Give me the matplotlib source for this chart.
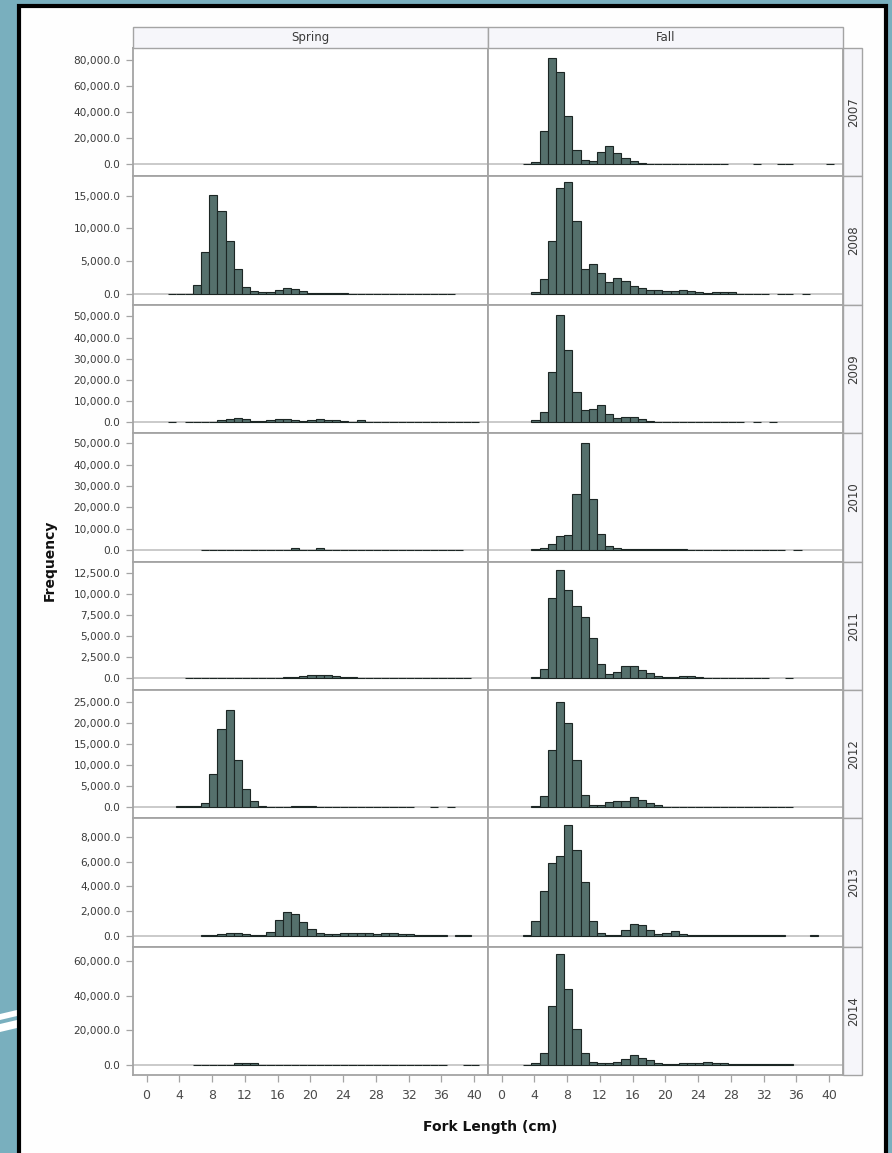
import matplotlib
matplotlib.use("Agg")
import matplotlib.pyplot as plt
from matplotlib.patches import Rectangle, Polygon
from matplotlib.ticker import FuncFormatter
import numpy as np

# ---------------- data ----------------
seasons = ["Spring", "Fall"]
years = ["2007", "2008", "2009", "2010", "2011", "2012", "2013", "2014"]
fork_length = list(range(0, 41))  # 1-cm length classes
x_ticks = list(range(0, 41, 4))

def full(d):
    return [d.get(k, 0) for k in fork_length]

spring_2007 = full({})
fall_2007 = full({3: 500, 4: 2000, 5: 25400, 6: 81300, 7: 71100, 8: 36800, 9: 11400,
                  10: 3600, 11: 2300, 12: 9600, 13: 14000, 14: 8400, 15: 4800, 16: 2500,
                  17: 1000, 18: 400, 19: 300, 20: 300, 21: 300, 22: 300, 23: 300, 24: 300,
                  25: 300, 26: 300, 27: 300, 31: 300, 34: 300, 35: 300, 40: 300})

spring_2008 = full({3: 50, 4: 50, 5: 50, 6: 1440, 7: 6460, 8: 15130, 9: 12600, 10: 8000,
                    11: 3740, 12: 1030, 13: 400, 14: 250, 15: 250, 16: 560, 17: 920,
                    18: 770, 19: 510, 20: 200, 21: 200, 22: 200, 23: 200, 24: 200,
                    25: 50, 26: 50, 27: 50, 28: 50, 29: 50, 30: 50, 31: 50, 32: 50,
                    33: 50, 34: 50, 35: 50, 36: 50, 37: 50})
fall_2008 = full({4: 300, 5: 2300, 6: 8000, 7: 16150, 8: 17080, 9: 11080, 10: 3740,
                  11: 4600, 12: 3230, 13: 1850, 14: 2360, 15: 2050, 16: 1280, 17: 920,
                  18: 670, 19: 560, 20: 510, 21: 460, 22: 560, 23: 460, 24: 250, 25: 150,
                  26: 300, 27: 300, 28: 300, 29: 50, 30: 50, 31: 50, 32: 50, 34: 50,
                  35: 50, 37: 50})

spring_2009 = full({3: 200, 5: 150, 6: 150, 7: 150, 8: 150, 9: 940, 10: 1570, 11: 2040,
                    12: 1260, 13: 630, 14: 630, 15: 1100, 16: 1260, 17: 1260, 18: 790,
                    19: 470, 20: 1100, 21: 1260, 22: 1100, 23: 790, 24: 310, 25: 100,
                    26: 790, 27: 80, 28: 80, 29: 80, 30: 80, 31: 80, 32: 80, 33: 80,
                    34: 80, 35: 80, 36: 80, 37: 80, 38: 80, 39: 80, 40: 80})
fall_2009 = full({4: 940, 5: 4870, 6: 23740, 7: 50800, 8: 34280, 9: 14300, 10: 5660,
                  11: 5970, 12: 7860, 13: 3620, 14: 2040, 15: 2360, 16: 2360, 17: 1260,
                  18: 470, 19: 200, 20: 200, 21: 200, 22: 200, 23: 200, 24: 200, 25: 200,
                  26: 200, 27: 200, 28: 200, 29: 200, 31: 100, 33: 100})

spring_2010 = full({7: 100, 8: 100, 9: 100, 10: 100, 11: 100, 12: 100, 13: 100, 14: 100,
                    15: 100, 16: 100, 17: 100, 18: 1100, 19: 100, 20: 100, 21: 1100,
                    22: 100, 23: 100, 24: 100, 25: 100, 26: 100, 27: 100, 28: 100,
                    29: 100, 30: 100, 31: 100, 32: 100, 33: 100, 34: 100, 35: 100,
                    36: 100, 37: 100, 38: 100})
fall_2010 = full({4: 600, 5: 1100, 6: 3100, 7: 6600, 8: 6900, 9: 26100, 10: 50000,
                  11: 23800, 12: 7800, 13: 1900, 14: 1000, 15: 500, 16: 500, 17: 500,
                  18: 500, 19: 500, 20: 500, 21: 500, 22: 500, 23: 100, 24: 100, 25: 100,
                  26: 100, 27: 100, 28: 100, 29: 100, 30: 100, 31: 100, 32: 100,
                  33: 100, 34: 100, 36: 200})

spring_2011 = full({5: 50, 6: 50, 7: 50, 8: 50, 9: 50, 10: 50, 11: 50, 12: 50, 13: 50,
                    14: 50, 15: 50, 16: 50, 17: 120, 18: 200, 19: 320, 20: 440, 21: 440,
                    22: 360, 23: 240, 24: 120, 25: 120, 26: 40, 27: 40, 28: 40, 29: 40,
                    30: 40, 31: 40, 32: 40, 33: 40, 34: 40, 35: 40, 36: 40, 37: 40,
                    38: 40, 39: 40})
fall_2011 = full({4: 120, 5: 1110, 6: 9520, 7: 12900, 8: 10500, 9: 8600, 10: 7220,
                  11: 4760, 12: 1670, 13: 500, 14: 800, 15: 1500, 16: 1500, 17: 1000,
                  18: 680, 19: 280, 20: 120, 21: 120, 22: 240, 23: 240, 24: 120, 25: 80,
                  26: 50, 27: 50, 28: 50, 29: 50, 30: 50, 31: 50, 32: 50, 35: 50})

spring_2012 = full({4: 240, 5: 240, 6: 240, 7: 1030, 8: 7780, 9: 18490, 10: 23000,
                    11: 11100, 12: 4370, 13: 1430, 14: 160, 15: 80, 16: 80, 17: 80,
                    18: 240, 19: 240, 20: 240, 21: 60, 22: 60, 23: 60, 24: 60, 25: 60,
                    26: 60, 27: 60, 28: 60, 29: 60, 30: 60, 31: 60, 32: 60, 35: 60,
                    37: 60})
fall_2012 = full({4: 240, 5: 2540, 6: 13490, 7: 24840, 8: 20000, 9: 11100, 10: 2940,
                  11: 560, 12: 400, 13: 1190, 14: 1350, 15: 1430, 16: 2380, 17: 1590,
                  18: 1030, 19: 400, 20: 60, 21: 60, 22: 60, 23: 60, 24: 60, 25: 60,
                  26: 60, 27: 60, 28: 60, 29: 60, 30: 60, 31: 60, 32: 60, 33: 60,
                  34: 60, 35: 60})

spring_2013 = full({7: 30, 8: 30, 9: 110, 10: 190, 11: 215, 12: 160, 13: 30, 14: 80,
                    15: 300, 16: 1290, 17: 1910, 18: 1750, 19: 1100, 20: 565, 21: 215,
                    22: 110, 23: 110, 24: 215, 25: 215, 26: 270, 27: 190, 28: 110,
                    29: 190, 30: 215, 31: 160, 32: 110, 33: 30, 34: 30, 35: 30, 36: 30,
                    38: 30, 39: 30})
fall_2013 = full({3: 80, 4: 1210, 5: 3660, 6: 5860, 7: 6480, 8: 8950, 9: 6940, 10: 4380,
                  11: 1210, 12: 270, 13: 50, 14: 80, 15: 480, 16: 970, 17: 910, 18: 480,
                  19: 160, 20: 270, 21: 430, 22: 160, 23: 80, 24: 80, 25: 80, 26: 30,
                  27: 30, 28: 30, 29: 30, 30: 30, 31: 30, 32: 30, 33: 30, 34: 30, 38: 30})

spring_2014 = full({6: 200, 7: 200, 8: 200, 9: 200, 10: 200, 11: 1160, 12: 1160,
                    13: 1160, 14: 150, 15: 150, 16: 150, 17: 150, 18: 150, 19: 150,
                    20: 150, 21: 150, 22: 150, 23: 150, 24: 150, 25: 150, 26: 150,
                    27: 150, 28: 150, 29: 150, 30: 150, 31: 150, 32: 150, 33: 150,
                    34: 150, 35: 150, 36: 150, 39: 100, 40: 100})
fall_2014 = full({3: 200, 4: 1160, 5: 6960, 6: 33800, 7: 64000, 8: 44060, 9: 20870,
                  10: 6960, 11: 1550, 12: 1160, 13: 1160, 14: 1930, 15: 3480, 16: 5800,
                  17: 3860, 18: 2700, 19: 1160, 20: 390, 21: 390, 22: 1350, 23: 1350,
                  24: 1350, 25: 1740, 26: 1350, 27: 1350, 28: 390, 29: 390, 30: 390,
                  31: 390, 32: 390, 33: 390, 34: 390, 35: 390})

counts = {
    ("Spring", "2007"): spring_2007, ("Fall", "2007"): fall_2007,
    ("Spring", "2008"): spring_2008, ("Fall", "2008"): fall_2008,
    ("Spring", "2009"): spring_2009, ("Fall", "2009"): fall_2009,
    ("Spring", "2010"): spring_2010, ("Fall", "2010"): fall_2010,
    ("Spring", "2011"): spring_2011, ("Fall", "2011"): fall_2011,
    ("Spring", "2012"): spring_2012, ("Fall", "2012"): fall_2012,
    ("Spring", "2013"): spring_2013, ("Fall", "2013"): fall_2013,
    ("Spring", "2014"): spring_2014, ("Fall", "2014"): fall_2014,
}

y_tick_top = [80000, 15000, 50000, 50000, 12500, 25000, 8000, 60000]
y_tick_step = [20000, 5000, 10000, 10000, 2500, 5000, 2000, 20000]
y_limits = [(-9140, 89140), (-1650, 17920), (-5330, 55500), (-5300, 54700),
            (-1393, 13845), (-2690, 27800), (-887, 9508), (-5800, 68100)]

# ---------------- style ----------------
W, H = 892, 1153
BAR_FACE = "#55706c"
BAR_EDGE = "#1c2624"
FRAME = "#a4a4a4"
TXT = "#3a3a3a"

fig = plt.figure(figsize=(W / 100, H / 100), dpi=100)
fig.patch.set_facecolor("#79afbe")


def fx(px):
    return px / W


def fy(py):
    return 1 - py / H


# decorative white stripes on the teal background (left)
for (y0, y1) in [(1010, 1016), (1020, 1028)]:
    fig.add_artist(Polygon([(fx(0), fy(y0 + 4)), (fx(17), fy(y0)), (fx(17), fy(y1)),
                            (fx(0), fy(y1 + 4))], closed=True, transform=fig.transFigure,
                           facecolor="white", edgecolor="none", zorder=0))

# white slide panel with black border
fig.add_artist(Rectangle((fx(18.5), fy(1165)), fx(885.5) - fx(18.5), fy(6) - fy(1165),
                         transform=fig.transFigure, facecolor="#fefefe",
                         edgecolor="black", lw=3.0, zorder=0))

LEFT0 = 133.0
COLW = 355.0
TOP0 = 48.0
ROWH = 128.4
XLIM = (-1.65, 41.7)

for i, yr in enumerate(years):
    for j, season in enumerate(seasons):
        left = LEFT0 + j * COLW
        top = TOP0 + i * ROWH
        ax = fig.add_axes([fx(left), fy(top + ROWH), COLW / W, ROWH / H])
        ax.set_facecolor("white")
        h = np.asarray(counts[(season, yr)], dtype=float)
        x = np.asarray(fork_length, dtype=float)
        m = h > 0
        ax.axhline(0, color="#c6c6c6", lw=1.3, zorder=1)
        ax.bar(x[m] - 0.35, h[m], width=1.0, align="edge", color=BAR_FACE,
               edgecolor=BAR_EDGE, linewidth=0.8, zorder=3)
        ax.set_xlim(*XLIM)
        ax.set_ylim(*y_limits[i])
        for s in ax.spines.values():
            s.set_color(FRAME)
            s.set_linewidth(1.3)
        yt = np.arange(0, y_tick_top[i] + 1, y_tick_step[i])
        ax.set_yticks(yt)
        ax.yaxis.set_major_formatter(FuncFormatter(lambda v, p: f"{v:,.1f}"))
        ax.tick_params(axis="y", length=5, width=0.9, color=FRAME, pad=4,
                       labelsize=7.6, labelcolor=TXT)
        if j == 1:
            ax.tick_params(axis="y", left=False, labelleft=False)
        ax.set_xticks(x_ticks)
        if i == len(years) - 1:
            ax.tick_params(axis="x", length=5, width=0.9, color=FRAME, pad=5,
                           labelsize=9, labelcolor="#4a4a4a")
            for lab in ax.get_xticklabels():
                lab.set_family(["Liberation Sans Narrow", "DejaVu Sans"])
        else:
            ax.tick_params(axis="x", bottom=False, labelbottom=False)

# column header strips
for j, season in enumerate(seasons):
    left = LEFT0 + j * COLW
    fig.add_artist(Rectangle((fx(left), fy(TOP0)), COLW / W, (TOP0 - 27) / H,
                             transform=fig.transFigure, facecolor="#f6f6fa",
                             edgecolor=FRAME, lw=1.0, zorder=2))
    fig.text(fx(left + COLW / 2), fy((TOP0 + 27) / 2), season, ha="center",
             va="center", fontsize=8.5, color=TXT)

# row header strips
STRIP_L, STRIP_R = 843.0, 862.0
for i, yr in enumerate(years):
    top = TOP0 + i * ROWH
    fig.add_artist(Rectangle((fx(STRIP_L), fy(top + ROWH)), (STRIP_R - STRIP_L) / W,
                             ROWH / H, transform=fig.transFigure, facecolor="#f6f6fa",
                             edgecolor=FRAME, lw=1.0, zorder=2))
    fig.text(fx((STRIP_L + STRIP_R) / 2 + 1), fy(top + ROWH / 2), yr, ha="center",
             va="center", rotation=90, fontsize=8.5, color=TXT)

fig.text(fx(490), fy(1127), "Fork Length (cm)", ha="center", va="center",
         fontsize=10, fontweight="bold", color="#111111")
fig.text(fx(50), fy(560), "Frequency", ha="center", va="center", rotation=90,
         fontsize=10, fontweight="bold", color="#111111")

fig.savefig("out.png", dpi=100, facecolor=fig.get_facecolor())
